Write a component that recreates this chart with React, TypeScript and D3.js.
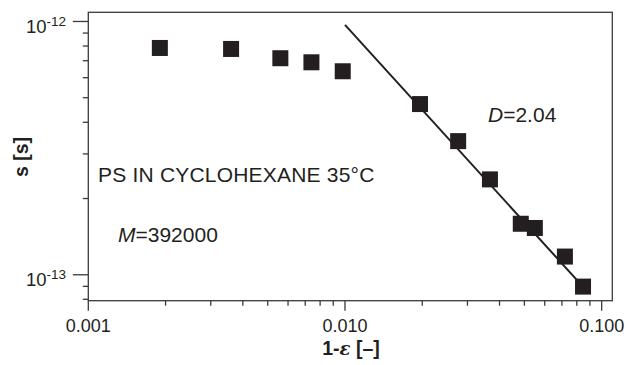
import React from "react";
import * as d3 from "d3";

// 1-eps values and sedimentation s [s]
const epsilon = [0.0019, 0.0036, 0.0056, 0.0074, 0.0098, 0.0196, 0.0276, 0.0367, 0.0484, 0.0549, 0.0719, 0.0846];
const sValues = [7.86e-13, 7.79e-13, 7.16e-13, 6.9e-13, 6.36e-13, 4.72e-13, 3.37e-13, 2.38e-13, 1.59e-13, 1.53e-13, 1.18e-13, 8.98e-14];

// fitted power-law line (D=2.04)
const fitX = [0.01, 0.0884];
const fitY = [9.7e-13, 8.54e-14];

const xMajor = [0.001, 0.01, 0.1];
const xTickLabels = ["0.001", "0.010", "0.100"];
const yMajor = [1e-12, 1e-13];
const yTickExp = ["-12", "-13"];

const INK = "#231f20";
const FONT = "'Liberation Sans', Arial, sans-serif";

function App() {
  const dims = { width: 627, height: 365, left: 88.3, right: 612.3, top: 12.3, bottom: 300.7 };

  //---- Scales ----//
  const x = d3.scaleLog().domain([0.001, 0.11]).range([dims.left, dims.right]);
  const y = d3.scaleLog().domain([7.9e-14, 1.087e-12]).range([dims.bottom, dims.top]);

  const isMajor = (t: number) => Math.abs(Math.log10(t) - Math.round(Math.log10(t))) < 1e-6;
  const xMinor = x.ticks().filter((t) => !isMajor(t));
  const yMinor = y.ticks().filter((t) => !isMajor(t));

  const line = d3
    .line<number>()
    .x((d) => x(d))
    .y((d, i) => y(fitY[i]));

  const sq = 16;

  return (
    <div style={{ position: "absolute", left: 0, top: 0 }}>
      <svg width={dims.width} height={dims.height} style={{ display: "block" }} fontFamily={FONT}>
        <rect width={dims.width} height={dims.height} fill="#fff" />

        {/* frame */}
        <rect
          x={dims.left}
          y={dims.top}
          width={dims.right - dims.left}
          height={dims.bottom - dims.top}
          fill="none"
          stroke="#3a3a3a"
          strokeWidth={1.3}
        />

        {/* x ticks */}
        {xMinor.map((t, i) => (
          <line key={"xm" + i} x1={x(t)} x2={x(t)} y1={dims.bottom} y2={dims.bottom + 5} stroke="#3a3a3a" strokeWidth={1.3} />
        ))}
        {xMajor.map((t, i) => (
          <g key={"xM" + i}>
            <line x1={x(t)} x2={x(t)} y1={dims.bottom} y2={dims.bottom + 10} stroke="#3a3a3a" strokeWidth={1.3} />
            <text x={x(t)} y={332} textAnchor="middle" fontSize={18} fill={INK}>
              {xTickLabels[i]}
            </text>
          </g>
        ))}

        {/* y ticks */}
        {yMinor.map((t, i) => (
          <line key={"ym" + i} x1={dims.left - 5.5} x2={dims.left} y1={y(t)} y2={y(t)} stroke="#3a3a3a" strokeWidth={1.3} />
        ))}
        {yMajor.map((t, i) => (
          <g key={"yM" + i}>
            <line x1={dims.left - 15.5} x2={dims.left} y1={y(t)} y2={y(t)} stroke="#3a3a3a" strokeWidth={1.3} />
            <text x={66} y={y(t) + 11.5} textAnchor="end" fontSize={18.5} fill={INK}>
              <tspan>10</tspan>
              <tspan dy={-7} fontSize={13.5}>
                {yTickExp[i]}
              </tspan>
            </text>
          </g>
        ))}

        {/* fit line */}
        <path d={line(fitX) || ""} fill="none" stroke={INK} strokeWidth={2} />

        {/* data */}
        {epsilon.map((e, i) => (
          <rect key={"p" + i} x={x(e) - sq / 2} y={y(sValues[i]) - sq / 2} width={sq} height={sq} fill={INK} />
        ))}

        {/* annotations */}
        <text x={98} y={182.3} fontSize={21} letterSpacing={0.2} fill={INK}>
          PS IN CYCLOHEXANE 35°C
        </text>
        <text x={118} y={241.7} fontSize={21} fill={INK}>
          <tspan fontStyle="italic">M</tspan>=392000
        </text>
        <text x={488} y={121.7} fontSize={21} fill={INK}>
          <tspan fontStyle="italic">D</tspan>=2.04
        </text>

        {/* axis titles */}
        <text x={351} y={355} textAnchor="middle" fontSize={19.5} fontWeight="bold" fill={INK}>
          1-<tspan fontStyle="italic" fontFamily="'DejaVu Serif', serif" fontSize={18}>ε</tspan> [–]
        </text>
        <text transform="translate(28,157) rotate(-90)" textAnchor="middle" fontSize={19.5} fontWeight="bold" fill={INK}>
          s [s]
        </text>
      </svg>
    </div>
  );
}

export default App;
